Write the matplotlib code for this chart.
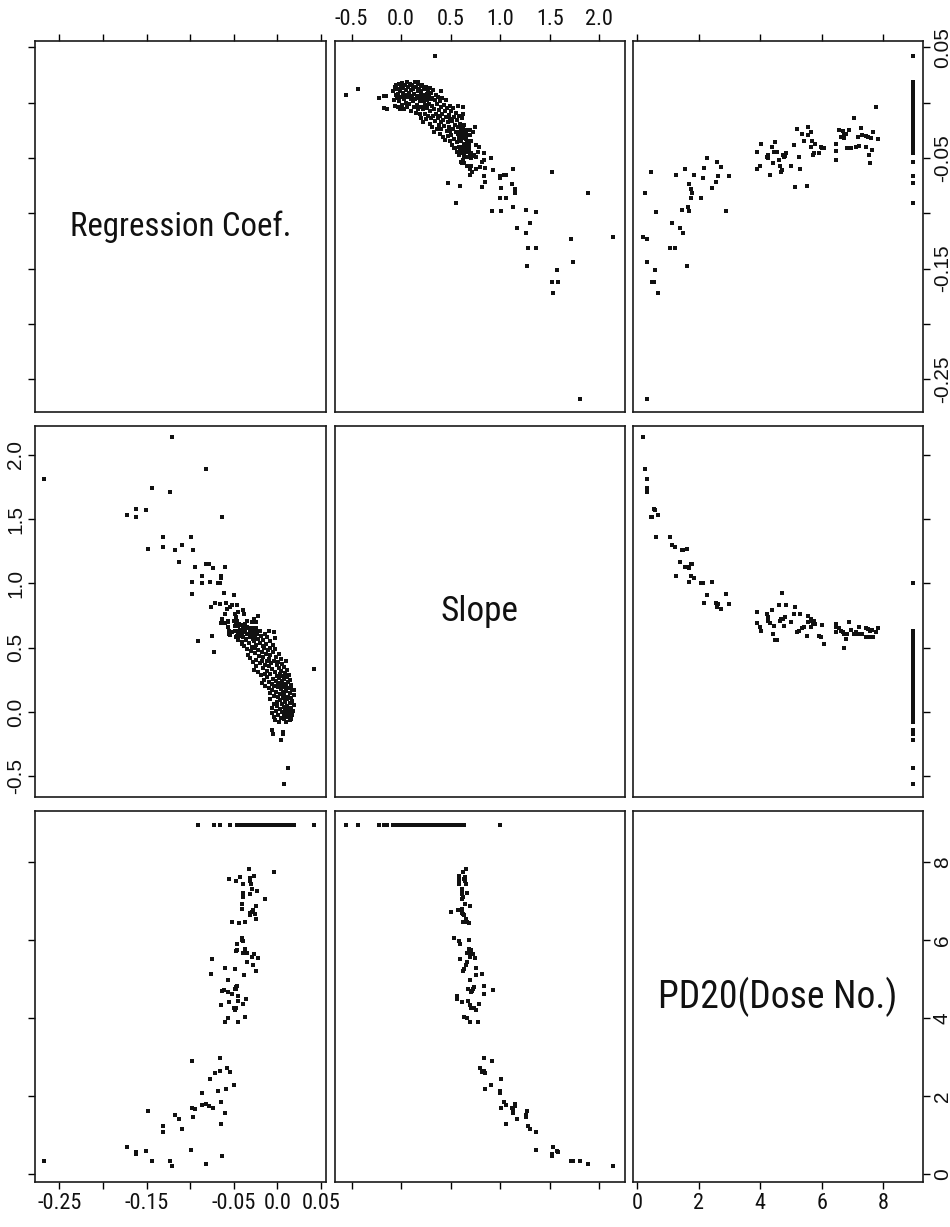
import matplotlib
matplotlib.use("Agg")
import matplotlib.pyplot as plt
from matplotlib import font_manager
from matplotlib.font_manager import FontProperties

# ---------- fonts: prefer a condensed sans (the original uses Helvetica Narrow) ----------
def _pick_condensed():
    prefs = ["Liberation Sans Narrow", "Roboto Condensed", "Open Sans Condensed",
             "DejaVu Sans Condensed", "Noto Sans Condensed"]
    ok_w = (400, "normal", "regular", "book")
    cands = []
    for f in font_manager.fontManager.ttflist:
        n = f.name
        st = str(f.stretch).lower()
        if f.style != "normal" or f.weight not in ok_w:
            continue
        if "narrow" in n.lower() or "condensed" in n.lower() or "condensed" in st:
            cands.append(f)
    for p in prefs:
        for f in cands:
            if f.name == p or (p.startswith(f.name) and "condensed" in str(f.stretch).lower()):
                return f.fname
    for f in cands:
        if "sans" in f.name.lower():
            return f.fname
    return None

_cond = _pick_condensed()
def narrow_fp(size):
    if _cond:
        return FontProperties(fname=_cond, size=size)
    return FontProperties(family="Liberation Sans", size=size * 0.93)

def regular_fp(size):
    return FontProperties(family="Liberation Sans", size=size)

# ---------------- data ----------------
var_names = ["Regression Coef.", "Slope", "PD20(Dose No.)"]

# subjects reaching PD20 early: (pd20, slope, regression coef.)
early = [
    (0.19, 2.135, -0.121), (0.25, 1.89, -0.082), (0.34, 1.81, -0.268), (0.34, 1.74, -0.144),
    (0.34, 1.71, -0.123), (0.47, 1.52, -0.063), (0.50, 1.52, -0.162), (0.55, 1.58, -0.162),
    (0.58, 1.57, -0.151), (0.62, 1.36, -0.099), (0.68, 1.53, -0.172), (1.07, 1.36, -0.131),
    (1.14, 1.30, -0.109), (1.22, 1.28, -0.131), (1.28, 1.06, -0.065), (1.40, 1.17, -0.113),
    (1.45, 1.26, -0.097), (1.50, 1.26, -0.118), (1.55, 1.13, -0.060), (1.62, 1.27, -0.148),
    (1.66, 1.13, -0.094), (1.68, 1.12, -0.074), (1.70, 1.01, -0.098), (1.74, 1.15, -0.078),
    (1.76, 1.06, -0.086), (1.80, 1.15, -0.082), (1.84, 1.04, -0.065), (2.07, 1.00, -0.086),
    (2.14, 1.00, -0.068), (2.19, 0.85, -0.059), (2.28, 0.91, -0.050), (2.44, 1.01, -0.077),
    (2.58, 0.85, -0.072), (2.61, 0.82, -0.054), (2.64, 0.84, -0.066), (2.72, 0.80, -0.058),
    (2.89, 0.92, -0.098), (2.98, 0.84, -0.066),
]

# subjects reaching PD20 at doses 4-6: (pd20, slope, regression coef.)
middle = [
    (3.89, 0.78, -0.045), (3.90, 0.69, -0.060), (3.99, 0.66, -0.057), (4.04, 0.63, -0.037),
    (4.22, 0.76, -0.049), (4.25, 0.74, -0.047), (4.27, 0.71, -0.050), (4.33, 0.69, -0.065),
    (4.37, 0.79, -0.040), (4.41, 0.61, -0.055), (4.45, 0.67, -0.045), (4.49, 0.56, -0.036),
    (4.56, 0.56, -0.045), (4.62, 0.835, -0.052), (4.66, 0.71, -0.057), (4.69, 0.72, -0.063),
    (4.72, 0.925, -0.061), (4.75, 0.725, -0.047), (4.76, 0.67, -0.049), (4.80, 0.74, -0.048),
    (4.83, 0.835, -0.046), (4.99, 0.70, -0.057), (5.10, 0.76, -0.038), (5.13, 0.82, -0.076),
    (5.20, 0.62, -0.024), (5.26, 0.63, -0.049), (5.29, 0.76, -0.060), (5.37, 0.65, -0.028),
    (5.44, 0.66, -0.035), (5.51, 0.59, -0.075), (5.54, 0.75, -0.022), (5.56, 0.70, -0.029),
    (5.64, 0.725, -0.027), (5.66, 0.66, -0.040), (5.68, 0.71, -0.035), (5.72, 0.69, -0.047),
    (5.76, 0.705, -0.046), (5.78, 0.685, -0.037), (5.90, 0.595, -0.046), (5.97, 0.58, -0.040),
    (6.00, 0.68, -0.041), (6.07, 0.53, -0.041),
]

# subjects reaching PD20 at doses 6.5-8: (pd20, slope, regression coef.)
late = [
    (6.45, 0.685, -0.044), (6.46, 0.62, -0.052), (6.48, 0.66, -0.037), (6.55, 0.65, -0.025),
    (6.64, 0.63, -0.031), (6.68, 0.62, -0.026), (6.71, 0.61, -0.032), (6.73, 0.50, -0.029),
    (6.78, 0.57, -0.028), (6.81, 0.61, -0.041), (6.88, 0.70, -0.025), (6.94, 0.64, -0.041),
    (7.05, 0.61, -0.014), (7.12, 0.62, -0.040), (7.18, 0.61, -0.031), (7.21, 0.66, -0.039),
    (7.26, 0.61, -0.023), (7.31, 0.61, -0.029), (7.44, 0.654, -0.030), (7.45, 0.587, -0.040),
    (7.51, 0.647, -0.031), (7.53, 0.581, -0.047), (7.57, 0.634, -0.055), (7.59, 0.581, -0.032),
    (7.63, 0.64, -0.043), (7.65, 0.587, -0.027), (7.75, 0.62, -0.004), (7.82, 0.655, -0.033),
]

# PD20 not reached (coded at the top of the dose scale): (slope, regression coef.)
NOT_REACHED_PD20 = 8.96
not_reached_sparse = [
    (-0.561, 0.007), (-0.433, 0.012), (-0.22, 0.004), (-0.17, 0.006), (-0.154, 0.006),
    (-0.174, -0.005), (-0.14, -0.006), (0.338, 0.042), (0.173, 0.019), (1.00, -0.066),
    (0.47, -0.073), (0.60, -0.054), (0.55, -0.091),
]
not_reached_dense = [
    (-0.08, 0.010), (-0.075, 0.002), (-0.065, 0.014), (-0.06, -0.003), (-0.055, 0.007),
    (-0.05, 0.016), (-0.045, 0.004), (-0.04, 0.012), (-0.035, -0.004), (-0.03, 0.008),
    (-0.025, 0.017), (-0.02, 0.001), (-0.015, 0.010), (-0.01, -0.006), (-0.005, 0.014),
    (0.0, 0.005), (0.005, 0.018), (0.01, -0.002), (0.015, 0.009), (0.02, 0.013),
    (0.025, 0.003), (0.03, -0.006), (0.035, 0.016), (0.04, 0.007), (0.045, 0.000),
    (0.05, 0.011), (0.055, 0.019), (0.06, -0.004), (0.065, 0.005), (0.07, 0.014),
    (0.075, 0.009), (0.08, -0.001), (0.09, 0.017), (0.095, 0.003),
    (0.10, 0.011), (0.104, -0.008), (0.108, 0.006), (0.112, 0.016), (0.116, 0.001),
    (0.12, 0.012), (0.125, -0.004), (0.13, 0.008), (0.135, 0.019), (0.14, 0.003),
    (0.145, -0.009), (0.15, 0.014), (0.155, 0.006), (0.16, -0.002), (0.165, 0.010),
    (0.17, 0.017), (0.175, -0.006), (0.18, 0.004), (0.185, 0.012), (0.19, -0.010),
    (0.193, 0.001), (0.196, 0.008), (0.198, 0.015), (0.199, -0.004),
    (0.20, 0.010), (0.204, -0.014), (0.208, 0.004), (0.212, 0.016), (0.216, -0.006),
    (0.22, 0.007), (0.224, -0.018), (0.228, 0.001), (0.232, 0.012), (0.236, -0.010),
    (0.24, 0.005), (0.244, -0.002), (0.248, 0.014), (0.252, -0.015), (0.256, 0.008),
    (0.26, -0.005), (0.265, 0.002), (0.27, 0.011), (0.275, -0.012), (0.28, -0.001),
    (0.284, 0.006), (0.288, -0.019), (0.292, 0.013), (0.295, -0.008), (0.298, 0.003),
    (0.30, -0.014),
    (0.304, 0.009), (0.308, -0.022), (0.312, -0.003), (0.316, 0.004), (0.32, -0.012),
    (0.325, 0.011), (0.33, -0.027), (0.335, -0.006), (0.34, 0.002), (0.345, -0.017),
    (0.35, 0.007), (0.355, -0.010), (0.36, -0.024), (0.365, -0.001), (0.37, -0.014),
    (0.375, 0.005), (0.38, -0.020), (0.385, -0.007), (0.39, 0.001), (0.393, -0.028),
    (0.396, -0.012), (0.398, 0.010), (0.399, -0.018), (0.40, -0.004),
    (0.405, -0.024), (0.41, -0.010), (0.415, 0.004), (0.42, -0.031), (0.425, -0.016),
    (0.43, -0.002), (0.435, -0.021), (0.44, -0.008), (0.445, -0.034), (0.45, -0.013),
    (0.455, 0.002), (0.46, -0.026), (0.465, -0.005), (0.47, -0.018), (0.475, -0.030),
    (0.48, -0.011), (0.485, -0.022), (0.49, -0.003), (0.493, -0.035), (0.496, -0.015),
    (0.498, -0.026), (0.50, -0.008),
    (0.505, -0.029), (0.51, -0.017), (0.515, -0.038), (0.52, -0.005), (0.525, -0.024),
    (0.53, -0.013), (0.535, -0.033), (0.54, -0.020), (0.545, -0.041), (0.55, -0.009),
    (0.555, -0.027), (0.56, -0.016), (0.565, -0.036), (0.57, -0.022), (0.575, -0.003),
    (0.58, -0.030), (0.585, -0.012), (0.59, -0.042), (0.595, -0.019), (0.60, -0.026),
    (0.605, -0.035), (0.61, -0.014), (0.615, -0.045), (0.62, -0.024), (0.624, -0.031),
    (0.627, -0.010), (0.63, -0.039), (0.631, -0.020), (0.632, -0.046), (0.633, -0.028),
]

# tick positions / labels
reg_ticks = [-0.25, -0.20, -0.15, -0.10, -0.05, 0.0, 0.05]
reg_bottom_labels = ["-0.25", "", "-0.15", "", "-0.05", "0.0", "0.05"]
reg_side_labels = ["-0.25", "", "-0.15", "", "-0.05", "", "0.05"]
slope_ticks = [-0.5, 0.0, 0.5, 1.0, 1.5, 2.0]
slope_labels = ["-0.5", "0.0", "0.5", "1.0", "1.5", "2.0"]
pd_ticks = [0, 2, 4, 6, 8]
pd_labels = ["0", "2", "4", "6", "8"]

# ---------------- assemble variables ----------------
pd20, slope, reg = [], [], []
for grp in (early, middle, late):
    for p, s, r in grp:
        pd20.append(p); slope.append(s); reg.append(r)
for grp in (not_reached_sparse, not_reached_dense):
    for s, r in grp:
        pd20.append(NOT_REACHED_PD20); slope.append(s); reg.append(r)
variables = [reg, slope, pd20]

# ---------------- layout (pixels) ----------------
W, H = 950, 1227
col_px = [(35, 326), (335, 625), (633, 923)]
row_px = [(41, 412), (426, 797), (811, 1182)]
col_lim = [(-0.278, 0.0557), (-0.668, 2.26), (-0.13, 9.29)]
row_lim = [(-0.2795, 0.0556), (-0.66, 2.224), (-0.21, 9.32)]
ticks = [reg_ticks, slope_ticks, pd_ticks]
x_labels = [reg_bottom_labels, slope_labels, pd_labels]
y_labels = [reg_side_labels, slope_labels, pd_labels]
diag_width_px = [222, 78, 240]   # printed width of the diagonal labels
INK = "#111111"

fig = plt.figure(figsize=(W / 100, H / 100), dpi=100)
fig.patch.set_facecolor("white")
renderer = fig.canvas.get_renderer()

for i in range(3):
    for j in range(3):
        x0, x1 = col_px[j]
        y0, y1 = row_px[i]
        ax = fig.add_axes([x0 / W, 1 - y1 / H, (x1 - x0) / W, (y1 - y0) / H])
        ax.set_xlim(col_lim[j])
        ax.set_ylim(row_lim[i])
        for sp in ax.spines.values():
            sp.set_linewidth(1.2)
            sp.set_color("#1a1a1a")
        if i == j:
            t = ax.text(0.5, 0.5, var_names[i], transform=ax.transAxes, ha="center",
                        va="center", fontproperties=narrow_fp(24), color=INK)
            w = t.get_window_extent(renderer=renderer).width
            t.set_fontsize(24 * diag_width_px[i] / w)
        else:
            ax.plot(variables[j], variables[i], "s", ms=2.3, mew=0, color=INK)

        ax.set_xticks(ticks[j])
        ax.set_xticklabels(x_labels[j], fontproperties=narrow_fp(16), color=INK)
        ax.set_yticks(ticks[i])
        ax.set_yticklabels(y_labels[i], fontproperties=regular_fp(15), rotation=90,
                           va="center", color=INK)
        ax.tick_params(axis="x", direction="out", length=5, width=1.0, pad=3,
                       top=(i == 0), bottom=(i == 2),
                       labeltop=(i == 0 and j == 1), labelbottom=(i == 2 and j != 1))
        ax.tick_params(axis="y", direction="out", length=5, width=1.0, pad=2,
                       left=(j == 0), right=(j == 2),
                       labelleft=(j == 0 and i == 1), labelright=(j == 2 and i != 1))

fig.savefig("out.png", dpi=100, facecolor="white")
